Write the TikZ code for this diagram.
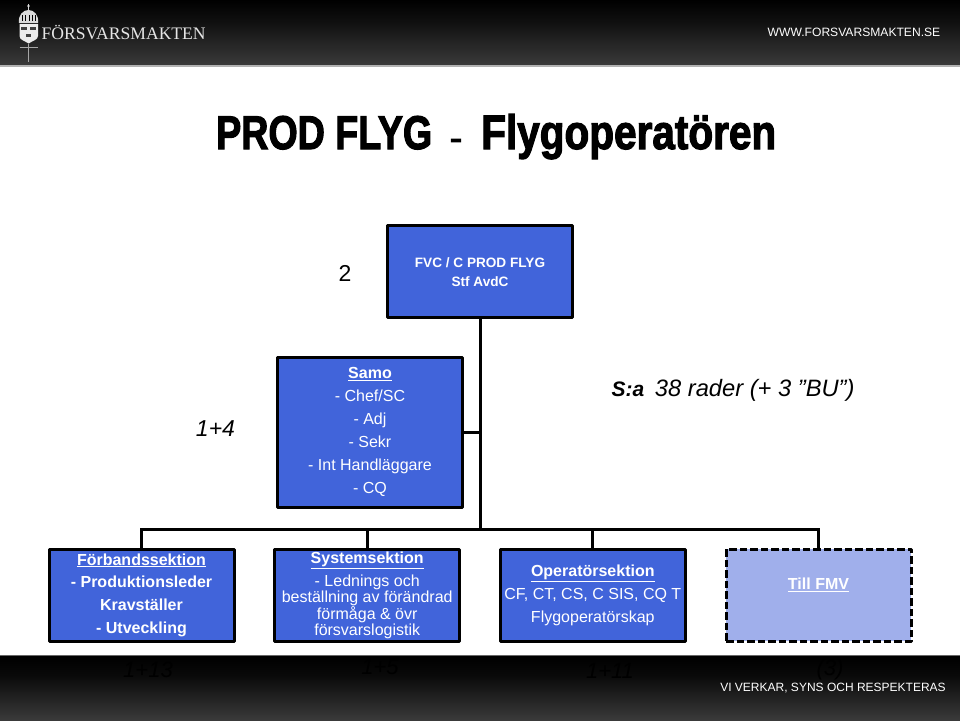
\documentclass[tikz,border=0pt]{standalone}
\usepackage{fontspec}
\setmainfont{Liberation Sans}
\newfontfamily\logofont{Liberation Serif}
\newfontfamily\titlefont{Liberation Sans}[FakeBold=2.6,BoldFont={Liberation Sans Bold}]
\usetikzlibrary{calc}
\definecolor{boxblue}{RGB}{65,100,218}
\definecolor{paleblue}{RGB}{160,175,235}
\definecolor{barmid}{RGB}{16,16,16}
\definecolor{footmid}{RGB}{10,10,10}
\definecolor{barlow}{RGB}{58,58,58}
\newcommand{\fs}[2]{\fontsize{#1}{#2}\selectfont}
\tikzset{
  x=1pt,y=-1pt,
  orgbox/.style={draw=black,line width=3pt,fill=boxblue,text=white,minimum width=185pt,minimum height=92pt,inner sep=0pt,outer sep=0pt,align=center,line join=round},
  dashbox/.style={orgbox,fill=paleblue,dash pattern=on 7.5pt off 3pt},
  link/.style={draw=black,line width=3pt,line join=miter},
  count/.style={text=black,font=\fs{23}{26}\itshape,inner sep=0pt},
  hidden/.style={text=black,font=\fs{22}{26}\itshape,inner sep=0pt},
  barlabel/.style={text=white,inner sep=0pt},
  titlepart/.style={inner sep=0pt,text=black,font=\titlefont\bfseries\fs{47}{52}},
}
\begin{document}
\begin{tikzpicture}
\useasboundingbox (0,0) rectangle (960,720);
\fill[white] (0,0) rectangle (960,720);
% header and footer bars
\shade[top color=black,bottom color=barmid] (0,0) rectangle (960,22);
\shade[top color=barmid,bottom color=barlow] (0,21.8) rectangle (960,65);
\fill[black!30] (0,65) rectangle (960,66.5);
\fill[black!60] (0,654.5) rectangle (960,656);
\shade[top color=black,bottom color=footmid] (0,656) rectangle (960,676);
\shade[top color=footmid,bottom color=barlow] (0,675.8) rectangle (960,720);
% emblem
\draw[white!85!black,line width=.8pt] (28.5,4) -- (28.5,10);
\fill[white!85!black] (28.5,6) circle (1.4);
\fill[white!85!black] (19,23) .. controls (18,15) and (23,10) .. (28.5,10) .. controls (34,10) and (39,15) .. (38,23) -- cycle;
\foreach \cx in {22,25.5,29,32.5,35.5}{\draw[black,line width=.9pt] (\cx,15) -- (\cx,21);}
\fill[white!92!black] (19.5,24) -- (38,24) -- (38,36) .. controls (38,40) and (32,41) .. (28.7,43.5) .. controls (25,41) and (19.5,40) .. (19.5,36) -- cycle;
\foreach \cx/\cy in {24/29,33/29,28.5/36}{\fill[black!75] (\cx-2.6,\cy-2.4) rectangle (\cx+2.6,\cy+1.4);}
\draw[white!65!black,line width=1.6pt] (28.5,44) -- (28.5,62);
\draw[white!65!black,line width=1pt] (19.5,47.5) -- (38,47.5);
\node[barlabel,text=white!90!black,font={\logofont\fs{17.6}{20}},anchor=west] (logotext) at (41.5,33) {FÖRSVARSMAKTEN};
\node[barlabel,font=\fs{12.1}{14}] (url) at (854,32) {WWW.FORSVARSMAKTEN.SE};
% hidden black figures on the footer
\node[hidden] (n1) at (148,670) {1+13};
\node[hidden] (n2) at (380,667) {1+5};
\node[hidden] (n3) at (610,671) {1+11};
\node[hidden] (n4) at (830,670) {(3)};
\node[barlabel,font=\fs{12}{15}] (motto) at (833,688) {VI VERKAR, SYNS OCH RESPEKTERAS};
% title
\node[titlepart,anchor=base west] (title1) at (216,149) {\resizebox{216pt}{33pt}{PROD FLYG}};
\node[titlepart] (title2) at (456,143) {\resizebox{12pt}{8pt}{-}};
\node[titlepart,anchor=base west] (title3) at (481,149) {\resizebox{295pt}{35pt}{Flygoperatören}};
% boxes
\node[orgbox,font=\fs{13.6}{19}\bfseries] (top) at (480,271.8) {FVC / C PROD FLYG\\Stf AvdC};
\node[orgbox,minimum height=150pt,font=\fs{16}{23}] (samo) at (370,432.3) {\textbf{\underline{Samo}}\\- Chef/SC\\- Adj\\- Sekr\\- Int Handläggare\\- CQ};
\node[orgbox,font=\fs{16}{22.8}\bfseries] (forb) at (141.5,595.2) {\underline{Förbandssektion}\\- Produktionsleder\\Kravställer\\- Utveckling};
\node[orgbox,font=\fs{16}{16.5}] (sys) at (367.2,595.2) {\textbf{\underline{Systemsektion}}\\[5pt]- Lednings och\\beställning av förändrad\\förmåga \& övr\\försvarslogistik};
\node[orgbox,font=\fs{16}{23}] (oper) at (592.8,595.2) {\textbf{\underline{Operatörsektion}}\\CF, CT, CS, C SIS, CQ T\\Flygoperatörskap};
\node[dashbox,font=\fs{16}{23}] (fmv) at (818.5,595.2) {\textbf{\underline{Till FMV}}\\\mbox{}};
% side labels
\node[count,font=\fs{23}{26}] (c2) at (345,273) {2};
\node[count] (c14) at (215.5,429) {1+4};
\node[count,font=\fs{23.7}{26}\itshape,anchor=west] (sum) at (611.5,390) {{\fs{21}{26}\textbf{S:a}}\hspace{4pt} 38 rader (+ 3 ”BU”)};
% connectors
\coordinate (bus) at (480,529);
\draw[link] (top.south) -- (top.south |- bus);
\draw[link] (samo.east) -- (samo.east -| top.south);
\draw[link] (forb.north) -- (forb.north |- bus) -- (fmv.north |- bus) -- (fmv.north);
\draw[link] (sys.north) -- (sys.north |- bus);
\draw[link] (oper.north) -- (oper.north |- bus);
\end{tikzpicture}
\end{document}
